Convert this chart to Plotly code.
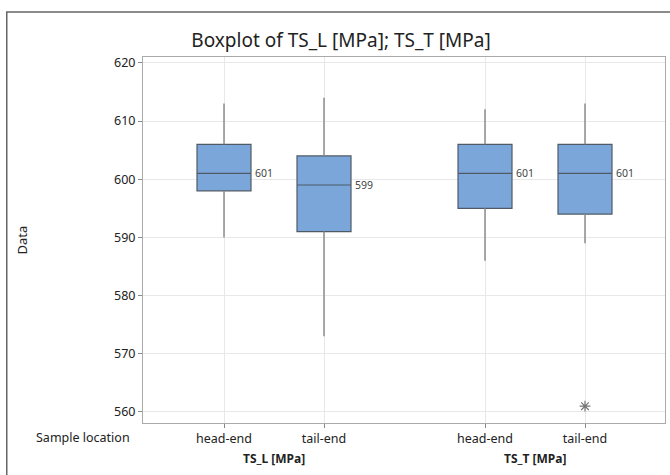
import plotly.graph_objects as go

# ---- data ----
groups = ["TS_L [MPa]", "TS_T [MPa]"]
locations = ["head-end", "tail-end"]
box_group = [0, 0, 1, 1]
box_loc = [0, 1, 0, 1]
q1 = [598, 591, 595, 594]
median = [601, 599, 601, 601]
q3 = [606, 604, 606, 606]
lower_whisker = [590, 573, 586, 589]
upper_whisker = [613, 614, 612, 613]
outlier_box = [3]
outlier_value = [561]
y_ticks = [560, 570, 580, 590, 600, 610, 620]

# ---- layout helpers ----
GROUP_STEP = 2.61
positions = [g * GROUP_STEP + l + 1 for g, l in zip(box_group, box_loc)]

FILL = "#7BA6DA"
LINE = "#4f5a66"
WHISKER = "#8c8c8c"
FONT = "Noto Sans"

fig = go.Figure()
# whiskers (drawn from the data, beneath the boxes)
for i, p in enumerate(positions):
    fig.add_trace(go.Scatter(
        x=[p, p, None, p, p],
        y=[lower_whisker[i], q1[i], None, q3[i], upper_whisker[i]],
        mode="lines", line=dict(color=WHISKER, width=1.5),
        showlegend=False, hoverinfo="skip"))

for i, p in enumerate(positions):
    fig.add_trace(go.Box(
        x=[p], q1=[q1[i]], median=[median[i]], q3=[q3[i]],
        lowerfence=[q1[i]], upperfence=[q3[i]],
        width=0.54, whiskerwidth=0, fillcolor=FILL,
        line=dict(color=LINE, width=1.2), boxpoints=False,
        showlegend=False, hoverinfo="skip",
    ))
    fig.add_annotation(x=p + 0.29, y=median[i], text=str(median[i]),
                       xanchor="left", yanchor="middle", showarrow=False,
                       font=dict(family=FONT, size=10.5, color="#444"))

fig.add_trace(go.Scatter(
    x=[positions[b] for b in outlier_box], y=outlier_value, mode="markers",
    marker=dict(symbol="asterisk-open", size=9, color="#777",
                line=dict(color="#777", width=1.2)),
    showlegend=False, hoverinfo="skip"))

tick_text = [locations[l] for l in box_loc]
fig.update_xaxes(
    range=[0.19, positions[-1] + 0.80], tickmode="array", tickvals=positions,
    ticktext=tick_text, showgrid=True, gridcolor="#e8e8e8", gridwidth=1,
    zeroline=False, showline=True, linecolor="#aaaaaa", mirror=True,
    ticks="outside", ticklen=4, tickcolor="#888",
    tickfont=dict(family=FONT, size=12.5, color="#222"))
fig.update_yaxes(
    range=[558.1, 621.0], tickmode="array", tickvals=y_ticks,
    showgrid=True, gridcolor="#e8e8e8", gridwidth=1, zeroline=False,
    showline=True, linecolor="#aaaaaa", mirror=True,
    ticks="outside", ticklen=4, tickcolor="#888",
    tickfont=dict(family=FONT, size=12.5, color="#222"))

# group labels
for g, name in enumerate(groups):
    gp = [p for p, bg in zip(positions, box_group) if bg == g]
    fig.add_annotation(x=sum(gp) / len(gp), y=-0.096, xref="x", yref="paper",
                       text="<b>" + name + "</b>", showarrow=False,
                       yanchor="middle",
                       font=dict(family=FONT, size=12, color="#222"))

fig.add_annotation(x=-0.208, y=-0.040, xref="paper", yref="paper",
                   text="Sample location", showarrow=False, xanchor="left",
                   yanchor="middle", font=dict(family=FONT, size=12.5, color="#222"))
fig.add_annotation(x=-0.231, y=0.5, xref="paper", yref="paper", text="Data",
                   textangle=-90, showarrow=False, xanchor="center",
                   yanchor="middle", font=dict(family=FONT, size=13, color="#222"))

# outer frame
fig.add_shape(type="rect", xref="paper", yref="paper",
              x0=-0.261, x1=1.05, y0=-0.3, y1=1.123,
              line=dict(color="#666", width=1.5), layer="below")

fig.update_layout(
    width=670, height=475,
    margin=dict(l=143, r=5, t=57, b=52),
    paper_bgcolor="white", plot_bgcolor="white",
    title=dict(text="Boxplot of TS_L [MPa]; TS_T [MPa]", x=0.509, xanchor="center",
               y=0.916, yanchor="middle",
               font=dict(family=FONT, size=19, color="#222")),
)

fig.write_html("out.html", config={"displayModeBar": False},
               post_script="document.body.style.margin='0';document.body.style.overflow='hidden';")
